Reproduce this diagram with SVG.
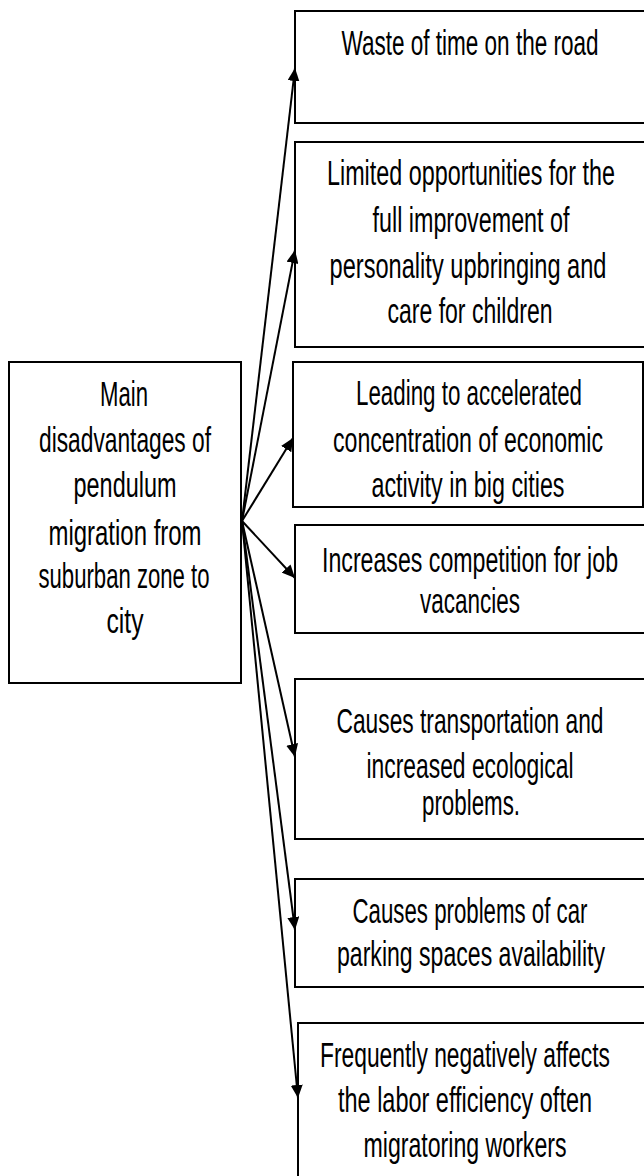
<svg xmlns="http://www.w3.org/2000/svg" width="644" height="1176" viewBox="0 0 644 1176">
<style>
.box{fill:#fff;stroke:#000;stroke-width:2}
.bg{fill:#fff;stroke:none}
.edge{fill:none;stroke:#000;stroke-width:2}
.t{font-family:"Liberation Sans",Arial,sans-serif;font-size:23px;fill:#000;text-anchor:middle}
.c{stroke:#000;stroke-width:2;fill:none;marker-end:url(#ah)}
</style>
<defs>
<marker id="ah" markerUnits="userSpaceOnUse" markerWidth="14" markerHeight="12" refX="13" refY="6" orient="auto">
<path d="M0,0 L13,6 L0,12 z" fill="#000"/>
</marker>
<clipPath id="clip3"><rect x="293" y="362" width="350" height="144"/></clipPath>
</defs>
<rect width="644" height="1176" fill="#fff"/>
<g id="main">
<rect class="box" x="9" y="362" width="232" height="321"/>
<text class="t" transform="translate(124,406) scale(1,1.55)" textLength="48" lengthAdjust="spacingAndGlyphs">Main</text>
<text class="t" transform="translate(125,452) scale(1,1.55)" textLength="172" lengthAdjust="spacingAndGlyphs">disadvantages of</text>
<text class="t" transform="translate(125,497) scale(1,1.55)" textLength="103" lengthAdjust="spacingAndGlyphs">pendulum</text>
<text class="t" transform="translate(125,545) scale(1,1.55)" textLength="153" lengthAdjust="spacingAndGlyphs">migration from</text>
<text class="t" transform="translate(124,588) scale(1,1.55)" textLength="171" lengthAdjust="spacingAndGlyphs">suburban zone to</text>
<text class="t" transform="translate(125,633) scale(1,1.55)" textLength="37" lengthAdjust="spacingAndGlyphs">city</text>
</g>
<g id="n1">
<rect class="bg" x="295" y="11" width="349" height="112"/>
<path class="edge" d="M644,11 H295 V123 H644"/>
<text class="t" transform="translate(470,55) scale(1,1.55)" textLength="257" lengthAdjust="spacingAndGlyphs">Waste of time on the road</text>
</g>
<g id="n2">
<rect class="bg" x="295" y="142" width="349" height="205"/>
<path class="edge" d="M644,142 H295 V347 H644"/>
<text class="t" transform="translate(471,185) scale(1,1.55)" textLength="288" lengthAdjust="spacingAndGlyphs">Limited opportunities for the</text>
<text class="t" transform="translate(471,232) scale(1,1.55)" textLength="197" lengthAdjust="spacingAndGlyphs">full improvement of</text>
<text class="t" transform="translate(468,278) scale(1,1.55)" textLength="277" lengthAdjust="spacingAndGlyphs">personality upbringing and</text>
<text class="t" transform="translate(470,323) scale(1,1.55)" textLength="165" lengthAdjust="spacingAndGlyphs">care for children</text>
</g>
<g id="n3">
<rect class="box" x="293" y="362" width="350" height="145"/>
<g clip-path="url(#clip3)">
<text class="t" transform="translate(469,405) scale(1,1.55)" textLength="226" lengthAdjust="spacingAndGlyphs">Leading to accelerated</text>
<text class="t" transform="translate(468,452) scale(1,1.55)" textLength="270" lengthAdjust="spacingAndGlyphs">concentration of economic</text>
<text class="t" transform="translate(468,497) scale(1,1.55)" textLength="193" lengthAdjust="spacingAndGlyphs">activity in big cities</text>
</g>
</g>
<g id="n4">
<rect class="bg" x="295" y="525" width="349" height="108"/>
<path class="edge" d="M644,525 H295 V633 H644"/>
<text class="t" transform="translate(470,572) scale(1,1.55)" textLength="296" lengthAdjust="spacingAndGlyphs">Increases competition for job</text>
<text class="t" transform="translate(470,613) scale(1,1.55)" textLength="100" lengthAdjust="spacingAndGlyphs">vacancies</text>
</g>
<g id="n5">
<rect class="bg" x="295" y="679" width="349" height="160"/>
<path class="edge" d="M644,679 H295 V839 H644"/>
<text class="t" transform="translate(470,733) scale(1,1.55)" textLength="267" lengthAdjust="spacingAndGlyphs">Causes transportation and</text>
<text class="t" transform="translate(470,778) scale(1,1.55)" textLength="207" lengthAdjust="spacingAndGlyphs">increased ecological</text>
<text class="t" transform="translate(471,815) scale(1,1.55)" textLength="98" lengthAdjust="spacingAndGlyphs">problems.</text>
</g>
<g id="n6">
<rect class="bg" x="295" y="879" width="349" height="108"/>
<path class="edge" d="M644,879 H295 V987 H644"/>
<text class="t" transform="translate(470,923) scale(1,1.55)" textLength="235" lengthAdjust="spacingAndGlyphs">Causes problems of car</text>
<text class="t" transform="translate(471,966) scale(1,1.55)" textLength="268" lengthAdjust="spacingAndGlyphs">parking spaces availability</text>
</g>
<g id="n7">
<rect class="bg" x="298" y="1023" width="346" height="153"/>
<path class="edge" d="M644,1023 H298 V1176"/>
<text class="t" transform="translate(465,1067) scale(1,1.55)" textLength="290" lengthAdjust="spacingAndGlyphs">Frequently negatively affects</text>
<text class="t" transform="translate(465,1112) scale(1,1.55)" textLength="254" lengthAdjust="spacingAndGlyphs">the labor efficiency often</text>
<text class="t" transform="translate(465,1157) scale(1,1.55)" textLength="203" lengthAdjust="spacingAndGlyphs">migratoring workers</text>
</g>
<g id="connectors">
<line class="c" x1="242" y1="521" x2="295" y2="68"/>
<line class="c" x1="242" y1="521" x2="295" y2="250"/>
<line class="c" x1="242" y1="521" x2="293" y2="438"/>
<line class="c" x1="242" y1="521" x2="295" y2="578"/>
<line class="c" x1="242" y1="521" x2="295" y2="757"/>
<line class="c" x1="242" y1="521" x2="295" y2="930"/>
<line class="c" x1="242" y1="521" x2="298" y2="1098"/>
</g>
</svg>
